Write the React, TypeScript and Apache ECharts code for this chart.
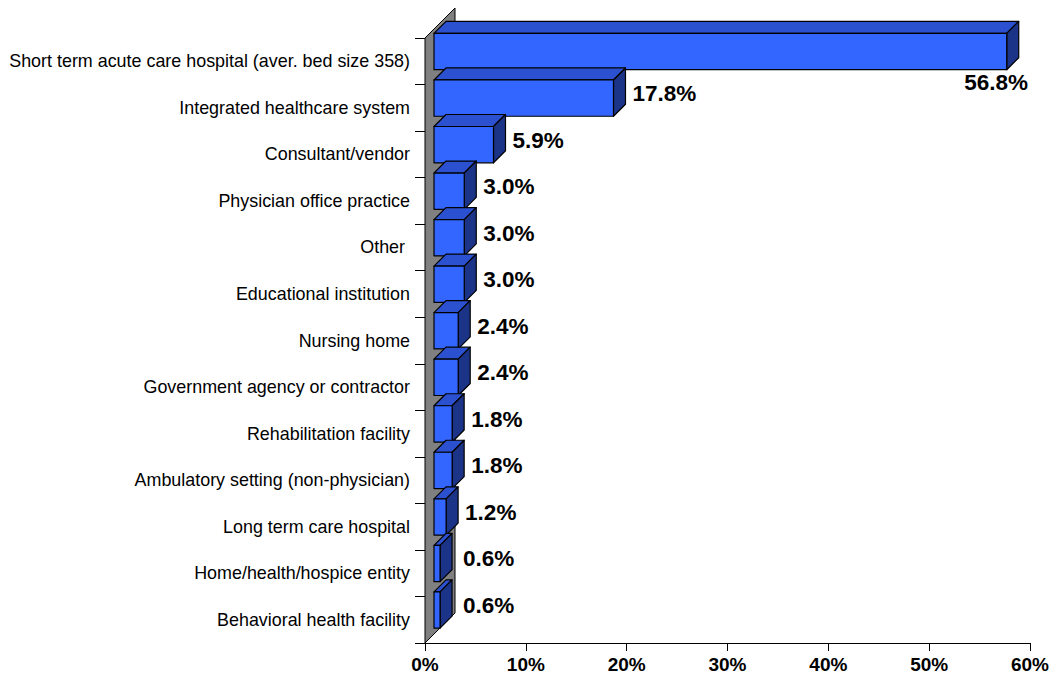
import React, { useEffect, useRef } from "react";
import * as echarts from "echarts";

const categories = [
  "Short term acute care hospital (aver. bed size 358)",
  "Integrated healthcare system",
  "Consultant/vendor",
  "Physician office practice",
  "Other ",
  "Educational institution",
  "Nursing home",
  "Government agency or contractor",
  "Rehabilitation facility",
  "Ambulatory setting (non-physician)",
  "Long term care hospital",
  "Home/health/hospice entity",
  "Behavioral health facility",
];
const values = [56.8, 17.8, 5.9, 3.0, 3.0, 3.0, 2.4, 2.4, 1.8, 1.8, 1.2, 0.6, 0.6];
const xMin = 0;
const xMax = 60;
const xInterval = 10;

const FONT = 'Arial, "Liberation Sans", sans-serif';
const WALL_DEPTH = 30;
const FRONT_OFS = 9;
const BAR_DEPTH = 12;
const LABEL_FONT = `bold 22.5px ${FONT}`;

let measureCtx: CanvasRenderingContext2D | null = null;
function textWidth(t: string, font: string) {
  if (!measureCtx) measureCtx = document.createElement("canvas").getContext("2d");
  if (!measureCtx) return t.length * 12;
  measureCtx.font = font;
  return measureCtx.measureText(t).width;
}

export default function App() {
  const ref = useRef<HTMLDivElement>(null);
  useEffect(() => {
    if (!ref.current) return;
    const chart = echarts.init(ref.current, undefined, { renderer: "svg" });
    const option: any = {
      animation: false,
      backgroundColor: "#fff",
      grid: { left: 425, right: 23, top: 38, bottom: 39, containLabel: false },
      xAxis: {
        type: "value",
        min: xMin,
        max: xMax,
        interval: xInterval,
        axisLine: { show: true, lineStyle: { color: "#000", width: 1 } },
        axisTick: { show: true, length: 8, lineStyle: { color: "#000" } },
        splitLine: { show: false },
        axisLabel: {
          formatter: "{value}%",
          color: "#000",
          fontWeight: "bold",
          fontSize: 19,
          fontFamily: FONT,
          margin: 12,
        },
      },
      yAxis: {
        type: "category",
        inverse: true,
        data: categories,
        axisLine: { show: true, lineStyle: { color: "#000", width: 1 } },
        axisTick: { show: true, length: 10, interval: 0, alignWithLabel: false, lineStyle: { color: "#000" } },
        axisLabel: {
          color: "#000",
          fontSize: 17.9,
          fontFamily: FONT,
          margin: 15,
          interval: 0,
          padding: [3, 0, 0, 0],
        },
        splitLine: { show: false },
      },
      series: [
        {
          type: "custom",
          z: 1,
          data: [[0, 0]],
          encode: { x: 0, y: 1 },
          silent: true,
          renderItem: (params: any) => {
            const cs = params.coordSys;
            const x = cs.x;
            const y = cs.y;
            const h = cs.height;
            return {
              type: "polygon",
              shape: {
                points: [
                  [x, y],
                  [x + WALL_DEPTH, y - WALL_DEPTH],
                  [x + WALL_DEPTH, y + h - WALL_DEPTH],
                  [x, y + h],
                ],
              },
              style: { fill: "#808080", stroke: "#000", lineWidth: 1 },
            };
          },
        },
        {
          type: "custom",
          z: 2,
          data: values.map((v, i) => [v, i]),
          encode: { x: 0, y: 1 },
          renderItem: (params: any, api: any) => {
            const v = api.value(0);
            const i = api.value(1);
            const cs = params.coordSys;
            const p0 = api.coord([0, i]);
            const p1 = api.coord([v, i]);
            const band = api.size([0, 1])[1];
            const bh = band * 0.78;
            const xl = p0[0] + FRONT_OFS;
            const xr = p1[0] + FRONT_OFS;
            const yc = p0[1] - FRONT_OFS - 0.7;
            const yt = yc - bh / 2;
            const yb = yc + bh / 2;
            const d = BAR_DEPTH;
            const stroke = { stroke: "#000", lineWidth: 1.2, lineJoin: "round" };
            const label = v.toFixed(1) + "%";
            const w = textWidth(label, LABEL_FONT);
            let lx = Math.max(xr + d + 7, cs.x + WALL_DEPTH + 8);
            let ly = yc - 4.5;
            let align = "left";
            if (lx + w > cs.x + cs.width) {
              lx = cs.x + cs.width - 2;
              ly = yb + 12.5;
              align = "right";
            }
            return {
              type: "group",
              children: [
                {
                  type: "polygon",
                  shape: { points: [[xl, yt], [xr, yt], [xr + d, yt - d], [xl + d, yt - d]] },
                  style: { fill: "#2B51D1", ...stroke },
                },
                {
                  type: "polygon",
                  shape: { points: [[xr, yt], [xr + d, yt - d], [xr + d, yb - d], [xr, yb]] },
                  style: { fill: "#1C3488", ...stroke },
                },
                {
                  type: "rect",
                  shape: { x: xl, y: yt, width: xr - xl, height: bh },
                  style: { fill: "#3366FF", ...stroke },
                },
                {
                  type: "text",
                  x: lx,
                  y: ly,
                  style: {
                    text: label,
                    fill: "#000",
                    font: LABEL_FONT,
                    align,
                    verticalAlign: "middle",
                  },
                },
              ],
            };
          },
        },
      ],
    };
    chart.setOption(option);
    return () => chart.dispose();
  }, []);
  return (
    <div
      ref={ref}
      style={{ position: "absolute", left: 0, top: 0, width: 1053, height: 682, background: "#fff" }}
    />
  );
}
